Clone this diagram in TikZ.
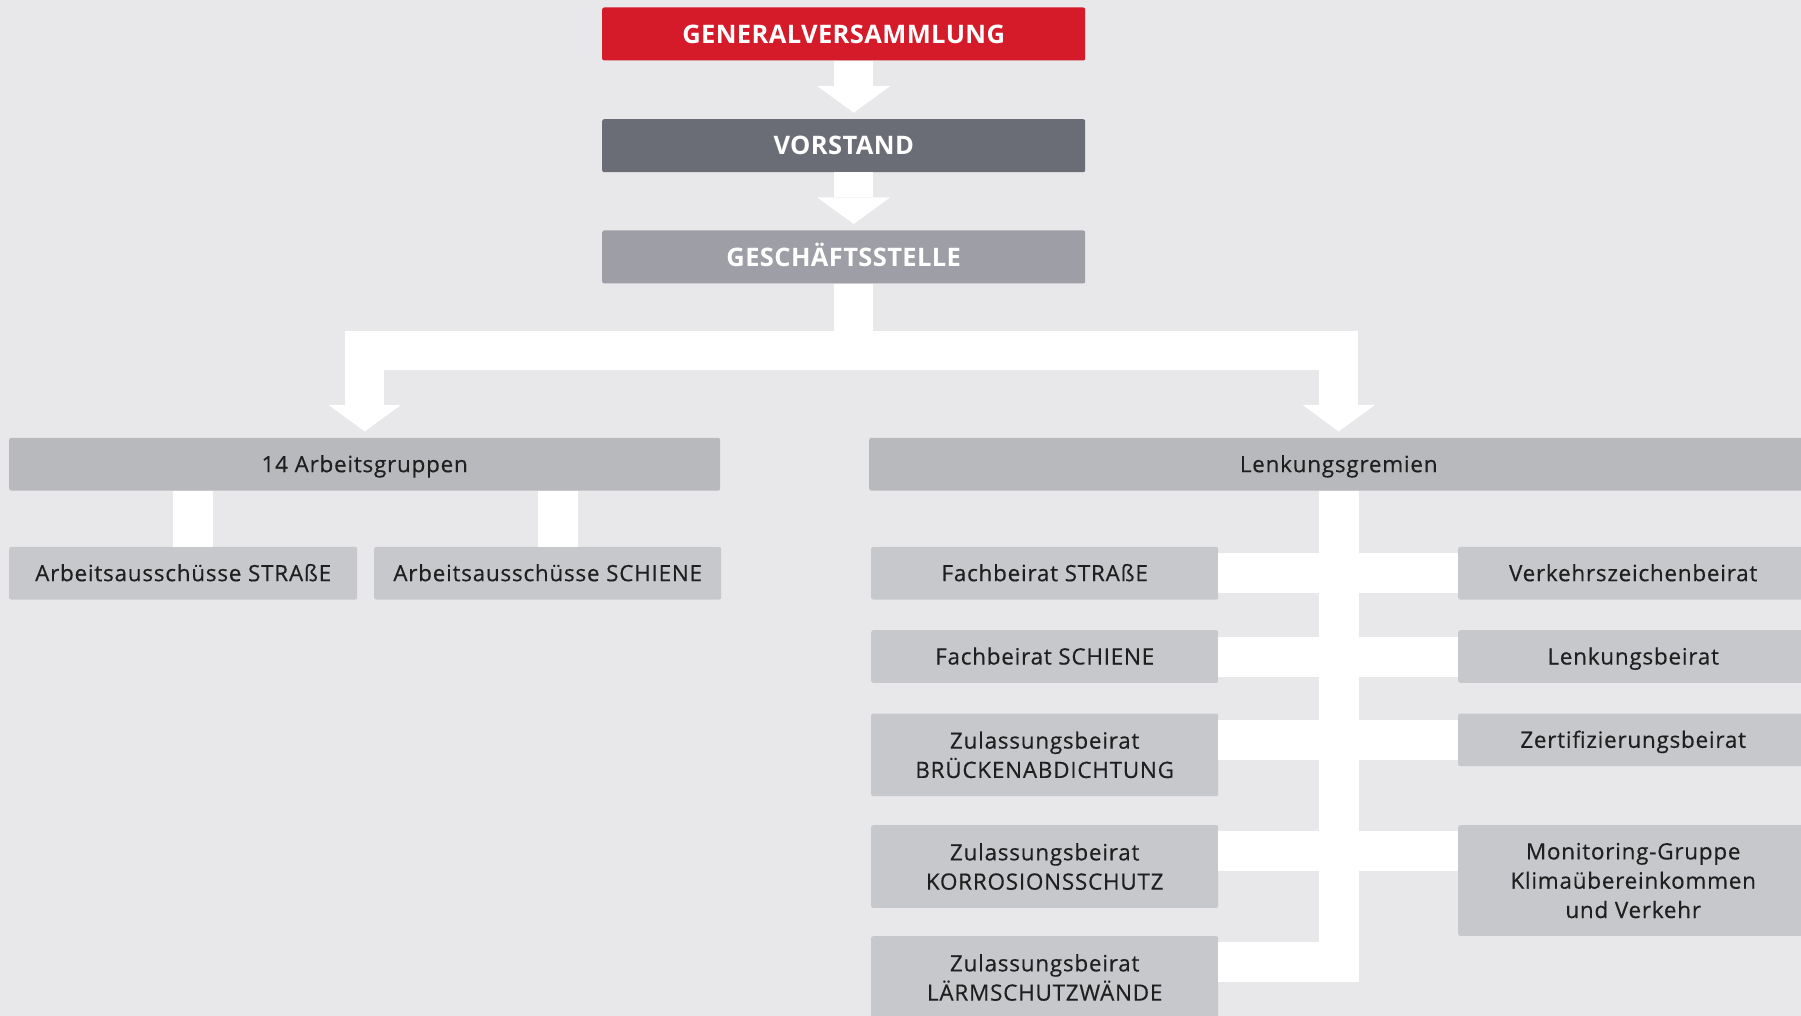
\documentclass[tikz,border=0pt]{standalone}
\usepackage{fontspec}
\setmainfont{Open Sans}
\usetikzlibrary{arrows.meta}
\definecolor{bg}{HTML}{E8E8EA}
\definecolor{gvred}{HTML}{D51A29}
\definecolor{vsgray}{HTML}{6A6D75}
\definecolor{gsgray}{HTML}{9D9EA6}
\definecolor{midgray}{HTML}{B8B9BC}
\definecolor{lightgray}{HTML}{C7C8CB}
\definecolor{txt}{HTML}{1F1F1F}
\begin{document}
\begin{tikzpicture}[x=1pt, y=-1pt,
  box/.style={anchor=north west, inner sep=0pt, rounded corners=2pt, align=center,
    text=txt, font=\fontsize{22.5}{29.3}\selectfont\addfontfeature{LetterSpace=3.3,FakeBold=0.4}},
  oneline/.style={text height=16pt, text depth=0pt},
  head/.style={box, text height=18.3pt, text depth=0pt, text=white, minimum width=483pt, minimum height=53pt,
    font=\fontsize{25.5}{30}\selectfont\bfseries\addfontfeature{LetterSpace=1.5}},
  sub/.style={box, fill=lightgray, minimum width=347pt, minimum height=52.6pt},
  fat/.style={draw=white, line width=39.5pt, shorten >=6.3pt,
    -{Triangle[width=72.5pt, length=26.5pt, line width=0pt]}},
  bar/.style={draw=white, line width=40pt}]
\useasboundingbox (0,0) rectangle (1801,1016);
\clip (0,0) rectangle (1801,1016);
\fill[bg] (0,0) rectangle (1801,1016);

% top of the chart
\node[head, fill=gvred] (gv) at (602,7.3) {GENERALVERSAMMLUNG};
\node[head, fill=vsgray] (vs) at (602,119) {VORSTAND};
\node[head, fill=gsgray] (gs) at (602,230.3) {GESCHÄFTSSTELLE};

% second level
\node[box, oneline, fill=midgray, minimum width=711pt, minimum height=52.6pt] (ag) at (9,437.7) {14 Arbeitsgruppen};
\node[box, oneline, fill=midgray, minimum width=939pt, minimum height=52.6pt] (lg) at (869,437.7) {Lenkungsgremien};

\node[sub, oneline, minimum width=348pt] (aas) at (9,546.7) {Arbeitsausschüsse STRAßE};
\node[sub, oneline] (aasch) at (374,546.7) {Arbeitsausschüsse SCHIENE};

% Lenkungsgremien, left column
\node[sub, oneline] (fs) at (871,546.7) {Fachbeirat STRAßE};
\node[sub, oneline] (fsch) at (871,630) {Fachbeirat SCHIENE};
\node[sub, minimum height=82.7pt] (zb) at (871,713.3) {Zulassungsbeirat\\BRÜCKENABDICHTUNG};
\node[sub, minimum height=82.7pt] (zk) at (871,825) {Zulassungsbeirat\\KORROSIONSSCHUTZ};
\node[sub, minimum height=82.7pt] (zl) at (871,936) {Zulassungsbeirat\\LÄRMSCHUTZWÄNDE};

% Lenkungsgremien, right column
\node[sub, oneline, minimum width=350pt] (vz) at (1458,546.7) {Verkehrszeichenbeirat};
\node[sub, oneline, minimum width=350pt] (lb) at (1458,630) {Lenkungsbeirat};
\node[sub, oneline, minimum width=350pt] (zt) at (1458,713.3) {Zertifizierungsbeirat};
\node[sub, minimum width=350pt, minimum height=110.7pt] (mg) at (1458,825) {Monitoring-Gruppe\\Klimaübereinkommen\\und Verkehr};

% arrows
\draw[fat] ([xshift=10pt]gv.south) -- ([xshift=10pt]vs.north);
\draw[fat] ([xshift=10pt]vs.south) -- ([xshift=10pt]gs.north);
\draw[fat] ([xshift=10pt]gs.south) -- ++(0,66.7) -| (ag.north);
\draw[fat] ([xshift=10pt]gs.south) -- ++(0,66.7) -| (lg.north);

\draw[bar] ([xshift=10pt]aas.north) -- ([xshift=10pt]aas.north |- ag.south);
\draw[bar] ([xshift=10pt]aasch.north) -- ([xshift=10pt]aasch.north |- ag.south);

\draw[bar] (lg.south) |- ([yshift=-26pt]zl.north east);
\draw[bar] (fs.east) -- (vz.west);
\draw[bar] (fsch.east) -- (lb.west);
\draw[bar] (zt.west -| zb.east) -- (zt.west);
\draw[bar] ([yshift=-26pt]zk.north east) -- ([yshift=-26pt]mg.north west);
\end{tikzpicture}
\end{document}
